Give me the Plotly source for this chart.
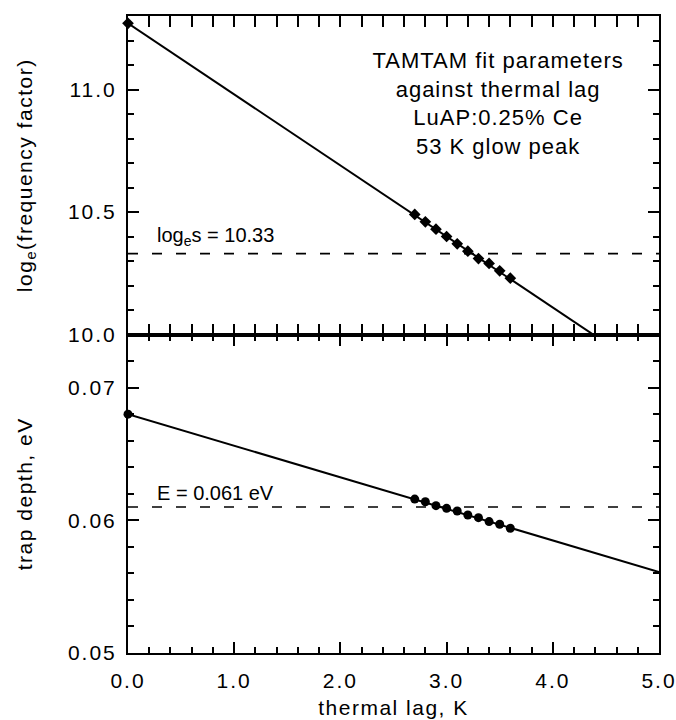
import plotly.graph_objects as go

# thermal lag values (K) at which the fits were made
lag = [2.7, 2.8, 2.9, 3.0, 3.1, 3.2, 3.3, 3.4, 3.5, 3.6]
# fitted log_e(frequency factor)
ln_s = [10.49, 10.46, 10.43, 10.40, 10.37, 10.34, 10.31, 10.29, 10.26, 10.23]
# fitted trap depth (eV)
depth = [0.0616, 0.0614, 0.0611, 0.0609, 0.0607, 0.0604, 0.0602, 0.0599, 0.0597, 0.0594]

# straight-line extrapolation to zero lag
fit_x = [0.0, 5.0]
fit_ln_s = [11.27, 9.82]
fit_depth = [0.0680, 0.0561]

# reference levels
ln_s_ref = 10.33
depth_ref = 0.061

FONT = "Liberation Sans, Arial, Helvetica, sans-serif"

fig = go.Figure()

# upper panel: log_e s
fig.add_trace(go.Scatter(x=fit_x, y=fit_ln_s, mode="lines",
                         line=dict(color="black", width=2), xaxis="x", yaxis="y2"))
fig.add_trace(go.Scatter(x=[0, 5], y=[ln_s_ref, ln_s_ref], mode="lines",
                         line=dict(color="black", width=1.6, dash="10px,14px"),
                         xaxis="x", yaxis="y2"))
fig.add_trace(go.Scatter(x=lag + [fit_x[0]], y=ln_s + [fit_ln_s[0]], mode="markers",
                         marker=dict(symbol="diamond", size=9, color="black"),
                         cliponaxis=False, xaxis="x", yaxis="y2"))

# lower panel: trap depth
fig.add_trace(go.Scatter(x=fit_x, y=fit_depth, mode="lines",
                         line=dict(color="black", width=2), xaxis="x", yaxis="y"))
fig.add_trace(go.Scatter(x=[0, 5], y=[depth_ref, depth_ref], mode="lines",
                         line=dict(color="black", width=1.6, dash="10px,14px"),
                         xaxis="x", yaxis="y"))
fig.add_trace(go.Scatter(x=lag + [fit_x[0]], y=depth + [fit_depth[0]], mode="markers",
                         marker=dict(symbol="circle", size=9, color="black"),
                         cliponaxis=False, xaxis="x", yaxis="y"))

minor_x = dict(dtick=0.2, ticks="inside", ticklen=6, tickwidth=2, tickcolor="black")
axis_common = dict(
    showline=True, linecolor="black", linewidth=2, mirror="allticks",
    ticks="inside", ticklen=11, tickwidth=2, tickcolor="black",
    showgrid=False, zeroline=False, automargin=False,
    tickfont=dict(family=FONT, size=21, color="black"),
    title_font=dict(family=FONT, size=21, color="black"),
)

fig.update_layout(
    width=676, height=720,
    margin=dict(l=128, r=17, t=16, b=67),
    paper_bgcolor="white", plot_bgcolor="white",
    showlegend=False,
    xaxis=dict(axis_common, range=[0, 5], dtick=1.0, tickformat=".1f",
               ticklabelstandoff=8, minor=minor_x,
               title=dict(text="thermal lag, K", standoff=9), anchor="y"),
    xaxis2=dict(axis_common, range=[0, 5], dtick=1.0, showticklabels=False,
                minor=minor_x, anchor="y2", matches="x"),
    yaxis=dict(axis_common, domain=[0, 0.5], range=[0.05, 0.074], dtick=0.01,
               tickformat=".2f", ticklabelstandoff=5,
               minor=dict(dtick=0.002, ticks="inside", ticklen=6, tickwidth=2, tickcolor="black"),
               title=dict(text="trap depth, eV", standoff=38)),
    yaxis2=dict(axis_common, domain=[0.5, 1], range=[10.0, 11.3], dtick=0.5,
                tickformat=".1f", ticklabelstandoff=5,
                minor=dict(dtick=0.1, ticks="inside", ticklen=6, tickwidth=2, tickcolor="black"),
                title=dict(text="log<sub>e</sub>(frequency factor)", standoff=38)),
)

# title block in the upper panel
fig.add_annotation(xref="x", yref="y2", x=3.48, y=10.943, yanchor="middle", showarrow=False,
                   text="TAMTAM fit parameters<br>against thermal lag<br>LuAP:0.25% Ce<br>53 K glow peak",
                   font=dict(family=FONT, size=22, color="black"), align="center")

# labels on the reference levels
fig.add_annotation(xref="x", yref="y2", x=0.25, y=ln_s_ref, yanchor="bottom", xanchor="left",
                   showarrow=False, yshift=3, text="log<sub>e</sub>s = 10.33",
                   font=dict(family=FONT, size=20, color="black"))
fig.add_annotation(xref="x", yref="y", x=0.25, y=depth_ref, yanchor="bottom", xanchor="left",
                   showarrow=False, yshift=1, text="E = 0.061 eV",
                   font=dict(family=FONT, size=20, color="black"))

# wider letter spacing, in the style of the original typesetting
spacing_js = """
var gd = document.getElementById('{plot_id}');
function spaceText() {
  gd.querySelectorAll('.xaxislayer-above text, .yaxislayer-above text')
    .forEach(function (t) { t.style.letterSpacing = '2px'; });
  gd.querySelectorAll('.g-xtitle text, .g-ytitle text, .g-y2title text')
    .forEach(function (t) { t.style.letterSpacing = '1.5px'; });
  gd.querySelectorAll('g.annotation[data-index="0"] text')
    .forEach(function (t) { t.style.letterSpacing = '1px'; });
}
spaceText();
setTimeout(spaceText, 0);
if (gd.on) { gd.on('plotly_afterplot', spaceText); }
"""

fig.write_html("out.html", post_script=spacing_js)
